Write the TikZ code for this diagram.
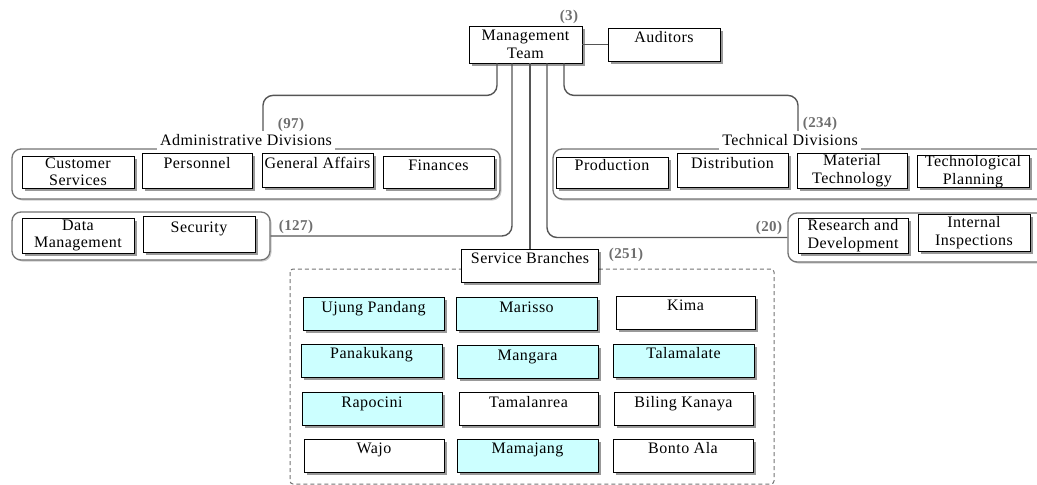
\documentclass[tikz,border=0pt]{standalone}
\usepackage{fontspec}
\setmainfont{Liberation Serif}[LetterSpace=3]
\usetikzlibrary{calc, positioning, shadows}
\definecolor{linkgray}{HTML}{555555}
\definecolor{tallygray}{HTML}{6E6E6E}
\definecolor{branchcyan}{HTML}{CCFFFF}
\tikzset{
  box/.style    = {draw=black, fill=white, line width=0.8pt, inner sep=0pt,
                   align=center, minimum width=111pt, minimum height=33pt,
                   drop shadow={shadow xshift=2.5pt, shadow yshift=-2.5pt,
                                opacity=0.4, fill=black}},
  lone/.style   = {text height=11pt, text depth=15pt},
  hot/.style    = {fill=branchcyan},
  grp/.style    = {draw=black!55, fill=white, line width=1.3pt, rounded corners=9pt,
                   inner sep=0pt,
                   drop shadow={shadow xshift=1.5pt, shadow yshift=-1.5pt,
                                opacity=0.2, fill=black}},
  grplab/.style = {fill=white, inner sep=3pt, text height=11pt, text depth=3pt},
  tally/.style  = {font=\fontsize{15}{17}\selectfont\bfseries, text=tallygray,
                   inner sep=0pt},
  link/.style   = {draw=linkgray, line width=1.4pt, rounded corners=10pt},
  zone/.style   = {draw=black!55, line width=1pt, dash pattern=on 4pt off 3pt,
                   rounded corners=3pt},
}
\begin{document}
\begin{tikzpicture}[x=1pt, y=-1pt, font=\fontsize{16}{17.5}\selectfont]
  \useasboundingbox (0,0) rectangle (1037,485);
  % division frames
  \node[grp, minimum width=488pt, minimum height=50pt] (admgrp) at (256,174) {};
  \node[grp, minimum width=258pt, minimum height=48pt] (datgrp) at (141,236) {};
  \node[grp, minimum width=500pt, minimum height=50pt] (tecgrp) at (803,174) {};
  \node[grp, minimum width=265pt, minimum height=49pt] (rdgrp) at (920.5,237.5) {};
  \draw[zone] (290,269) rectangle (774,484);
  \node[grplab] (admlab) at (246,141) {Administrative Divisions};
  \node[grplab] (teclab) at (790,141) {Technical Divisions};
  % top
  \node[box, minimum width=113pt, minimum height=37pt] (mgmt) at (525.5,44.5) {Management\\Team};
  \node[box, lone, minimum width=112pt] (aud) at (664,44.5) {Auditors};
  \draw[link] (mgmt) -- (aud);
  % lines down from the management team
  \draw[link] ([xshift=-28.5pt]mgmt.south) -- ++(0,32) -| ([xshift=17pt]admlab.north);
  \draw[link] ([xshift=-13.5pt]mgmt.south) |- (datgrp.east);
  \draw[link] ([xshift=21.5pt]mgmt.south) |- (rdgrp.west);
  \draw[link] ([xshift=38.5pt]mgmt.south) -- ++(0,32) -| ([xshift=8pt]teclab.north);
  % administrative divisions
  \node[box, minimum width=112pt, minimum height=32pt] (cust) at (78,172) {Customer\\Services};
  \node[box, lone, minimum width=110pt, minimum height=35pt] (pers) at (197,170.5) {Personnel};
  \node[box, lone, minimum height=34pt] (genaff) at (317.5,170) {General Affairs};
  \node[box, lone, minimum height=32pt] (fin) at (438.5,172) {Finances};
  \node[box, minimum width=112pt, minimum height=35pt] (datman) at (78,235.5) {Data\\Management};
  \node[box, lone, minimum width=112pt, minimum height=36pt] (secur) at (199,234) {Security};
  % technical divisions
  \node[box, lone, minimum width=112pt, minimum height=31pt] (prod) at (612,172.5) {Production};
  \node[box, lone, minimum height=34pt] (distr) at (732.5,170) {Distribution};
  \node[box, minimum width=110pt, minimum height=35pt] (mattech) at (852,170.5) {Material\\Technology};
  \node[box, minimum width=112pt, minimum height=31pt] (techplan) at (973,171.5) {Technological\\Planning};
  \node[box, minimum width=110pt, minimum height=35pt] (resdev) at (853,235.5) {Research and\\Development};
  \node[box, minimum width=112pt, minimum height=37pt] (intinsp) at (974,232.5) {Internal\\Inspections};
  % service branches
  \node[box, lone, minimum width=137pt] (sb) at (530,265.5) {Service Branches};
  \draw[link] ([xshift=4.5pt]mgmt.south) -- (sb.north);
  \node[box, lone, hot, minimum width=141pt] (ujung) at (373.5,314) {Ujung Pandang};
  \node[box, lone, hot, minimum width=141pt] (mariss) at (526.5,314) {Marisso};
  \node[box, lone, minimum width=139pt] (kima) at (685.5,312.5) {Kima};
  \node[box, lone, hot, minimum width=141pt] (panak) at (371.5,360.5) {Panakukang};
  \node[box, lone, hot, minimum width=141pt] (mangar) at (527.5,362) {Mangara};
  \node[box, lone, hot, minimum width=141pt] (talam) at (683.5,360.5) {Talamalate};
  \node[box, lone, hot, minimum width=140pt] (rapoc) at (372,409) {Rapocini};
  \node[box, lone, minimum width=139pt] (tamal) at (528.5,409) {Tamalanrea};
  \node[box, lone, minimum width=139pt] (biling) at (683.5,409) {Biling Kanaya};
  \node[box, lone, minimum width=140pt] (wajo) at (374,455.5) {Wajo};
  \node[box, lone, hot, minimum width=141pt] (mamaj) at (527.5,455.5) {Mamajang};
  \node[box, lone, minimum width=140pt] (bonto) at (683,455.5) {Bonto Ala};
  % head counts
  \node[tally] (n3) at (569,17) {(3)};
  \node[tally] (n97) at (291,125) {(97)};
  \node[tally] (n127) at (296,227) {(127)};
  \node[tally] (n234) at (820,124) {(234)};
  \node[tally] (n20) at (769,228) {(20)};
  \node[tally] (n251) at (626,255) {(251)};
\end{tikzpicture}
\end{document}
